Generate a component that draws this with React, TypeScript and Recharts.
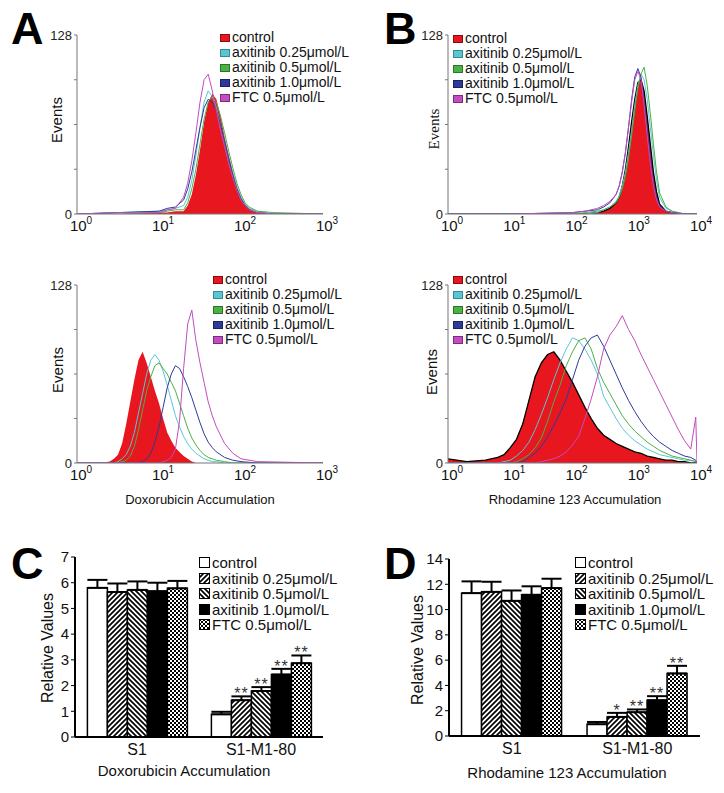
import React from 'react';
import { ComposedChart, Area, Line, XAxis, YAxis, BarChart, Bar, ErrorBar } from 'recharts';

const FONT = '"Liberation Sans", Arial, Helvetica, sans-serif';

const legendLabels = ['control', 'axitinib 0.25μmol/L', 'axitinib 0.5μmol/L', 'axitinib 1.0μmol/L', 'FTC 0.5μmol/L'];
const seriesKeys = ['control', 'a25', 'a5', 'a10', 'ftc'];
const lineColors = ['#e8161e', '#5ac6d4', '#4cb045', '#2e3a9a', '#c24cc0'];
const swatchBorders = ['#8a0c10', '#2f8c98', '#2a7526', '#1a2260', '#7e2a7d'];

const eventTicks = [0, 32, 64, 96, 128];
const decadesDox = [0, 1, 2, 3];
const decadesRho = [0, 1, 2, 3, 4];

// A, top: doxorubicin in S1 (x = log10 fluorescence)
const doxS1Bins = [0, 0.5, 1.0, 1.1, 1.2, 1.3, 1.35, 1.4, 1.45, 1.5, 1.55, 1.6, 1.65, 1.7, 1.75, 1.8, 1.85, 1.9, 1.95, 2.0, 2.05, 2.1, 2.2, 2.4, 3.0];
const doxS1Control = [0, 0, 1, 1, 2, 2, 6, 14, 28, 46, 66, 80, 86, 82, 70, 55, 42, 30, 20, 12, 7, 4, 1, 0, 0];
const doxS1A25 = [0, 1, 2, 3, 4, 6, 12, 24, 42, 62, 80, 88, 84, 76, 64, 52, 40, 29, 19, 12, 7, 4, 2, 0, 0];
const doxS1A5 = [0, 0, 1, 2, 3, 3, 8, 18, 32, 50, 68, 80, 84, 80, 70, 58, 45, 33, 22, 14, 8, 5, 2, 1, 0];
const doxS1A10 = [0, 1, 2, 4, 5, 10, 18, 30, 46, 62, 76, 82, 80, 74, 64, 52, 40, 28, 18, 11, 6, 3, 1, 0, 0];
const doxS1Ftc = [0, 1, 1, 3, 4, 12, 22, 38, 58, 80, 96, 100, 88, 74, 60, 48, 36, 26, 17, 10, 6, 3, 1, 0, 0];

// B, top: rhodamine 123 in S1
const rhoS1Bins = [0, 1, 2.0, 2.2, 2.4, 2.5, 2.6, 2.7, 2.75, 2.8, 2.85, 2.9, 2.95, 3.0, 3.05, 3.1, 3.15, 3.2, 3.25, 3.3, 3.35, 3.4, 3.5, 3.6, 3.8, 4.0];
const rhoS1Control = [0, 0, 0, 0, 1, 2, 4, 8, 12, 20, 32, 48, 66, 82, 94, 96, 88, 70, 50, 30, 16, 7, 2, 1, 0, 0];
const rhoS1A25 = [0, 0, 0, 0, 1, 3, 5, 9, 13, 20, 30, 44, 60, 78, 92, 100, 96, 82, 62, 42, 24, 12, 4, 2, 0, 0];
const rhoS1A5 = [0, 0, 0, 1, 2, 3, 5, 8, 12, 18, 27, 40, 56, 74, 90, 100, 105, 92, 72, 50, 30, 15, 5, 2, 0, 0];
const rhoS1A10 = [0, 0, 1, 2, 3, 5, 8, 14, 20, 30, 44, 62, 82, 98, 104, 98, 82, 60, 40, 22, 12, 6, 2, 1, 0, 0];
const rhoS1Ftc = [0, 0, 1, 2, 4, 6, 9, 14, 20, 30, 44, 62, 80, 96, 102, 96, 78, 56, 36, 20, 10, 5, 2, 1, 0, 0];

// A, bottom: doxorubicin in S1-M1-80
const doxM1Bins = [0, 0.3, 0.4, 0.45, 0.5, 0.55, 0.6, 0.65, 0.7, 0.75, 0.8, 0.85, 0.9, 0.95, 1.0, 1.05, 1.1, 1.15, 1.2, 1.25, 1.3, 1.35, 1.4, 1.45, 1.5, 1.55, 1.6, 1.65, 1.7, 1.8, 1.9, 2.0, 2.2, 3.0];
const doxM1Control = [0, 0, 1, 3, 6, 14, 28, 44, 60, 74, 80, 72, 62, 52, 43, 32, 22, 16, 11, 8, 5, 3, 1, 0, 0, 0, 0, 0, 0, 0, 0, 0, 0, 0];
const doxM1A25 = [0, 0, 0, 0, 1, 3, 6, 12, 22, 36, 50, 64, 74, 78, 74, 66, 56, 45, 34, 26, 19, 14, 10, 7, 5, 3, 2, 1, 1, 0, 0, 0, 0, 0];
const doxM1A5 = [0, 0, 0, 0, 0, 1, 2, 5, 12, 24, 38, 52, 62, 70, 72, 68, 64, 58, 52, 43, 34, 25, 18, 13, 9, 6, 4, 3, 2, 1, 0, 0, 0, 0];
const doxM1A10 = [0, 0, 0, 0, 0, 0, 0, 0, 0, 0, 1, 3, 7, 15, 26, 40, 54, 64, 70, 68, 62, 55, 47, 38, 29, 21, 15, 11, 8, 4, 2, 1, 0, 0];
const doxM1Ftc = [0, 0, 0, 0, 0, 0, 0, 0, 0, 0, 0, 0, 0, 0, 0, 1, 2, 4, 10, 30, 68, 100, 110, 88, 72, 58, 44, 34, 26, 14, 7, 3, 1, 0];

// B, bottom: rhodamine 123 in S1-M1-80
const rhoM1Bins = [0, 0.3, 0.6, 0.8, 0.9, 1.0, 1.1, 1.2, 1.3, 1.4, 1.5, 1.6, 1.7, 1.8, 1.9, 2.0, 2.1, 2.2, 2.3, 2.4, 2.5, 2.6, 2.7, 2.8, 2.9, 3.0, 3.1, 3.2, 3.3, 3.4, 3.5, 3.6, 3.7, 3.8, 3.9, 3.98, 4.0];
const rhoM1Control = [3, 1, 2, 4, 6, 11, 17, 28, 45, 62, 72, 78, 80, 74, 66, 58, 49, 40, 32, 25, 20, 17, 14, 12, 10, 8, 7, 5, 4, 3, 2, 2, 1, 1, 0, 0, 0];
const rhoM1A25 = [0, 0, 0, 0, 1, 2, 5, 9, 15, 24, 35, 47, 60, 72, 82, 90, 88, 82, 74, 64, 48, 40, 32, 25, 20, 16, 13, 10, 8, 6, 5, 4, 3, 2, 2, 1, 0];
const rhoM1A5 = [0, 0, 0, 0, 0, 0, 1, 3, 6, 11, 18, 30, 44, 56, 70, 80, 88, 90, 82, 68, 58, 50, 42, 34, 28, 23, 19, 15, 12, 9, 7, 5, 4, 3, 2, 1, 0];
const rhoM1A10 = [0, 0, 0, 0, 0, 0, 0, 1, 4, 7, 12, 19, 27, 36, 46, 60, 74, 84, 90, 92, 84, 74, 64, 54, 45, 37, 30, 24, 19, 15, 12, 9, 7, 5, 4, 2, 0];
const rhoM1Ftc = [0, 0, 0, 0, 0, 0, 0, 0, 0, 0, 1, 2, 3, 5, 8, 13, 19, 32, 46, 62, 82, 92, 98, 106, 96, 88, 78, 69, 60, 51, 42, 33, 24, 16, 10, 33, 0];

// C / D bar charts
const groups = ['S1', 'S1-M1-80'];
const doxControl = [5.8, 0.88];
const doxControlErr = [0.31, 0.1];
const doxA25 = [5.64, 1.43];
const doxA25Err = [0.33, 0.15];
const doxA5 = [5.72, 1.79];
const doxA5Err = [0.33, 0.15];
const doxA10 = [5.67, 2.43];
const doxA10Err = [0.33, 0.22];
const doxFtc = [5.78, 2.87];
const doxFtcErr = [0.29, 0.3];
const doxStars = [['', ''], ['', '**'], ['', '**'], ['', '**'], ['', '**']];
const doxTicks = [0, 1, 2, 3, 4, 5, 6, 7];

const rhoControl = [11.3, 0.93];
const rhoControlErr = [0.93, 0.18];
const rhoA25 = [11.4, 1.51];
const rhoA25Err = [0.8, 0.32];
const rhoA5 = [10.69, 1.88];
const rhoA5Err = [0.82, 0.22];
const rhoA10 = [11.17, 2.83];
const rhoA10Err = [0.67, 0.32];
const rhoFtc = [11.7, 4.95];
const rhoFtcErr = [0.74, 0.6];
const rhoStars = [['', ''], ['', '*'], ['', '**'], ['', '**'], ['', '**']];
const rhoTicks = [0, 2, 4, 6, 8, 10, 12, 14];

const barFills = ['#ffffff', 'url(#hatchFwd)', 'url(#hatchBack)', '#000000', 'url(#checker)'];

const Txt = ({ x, y, children, size = 14, weight = 'normal', family = FONT }: any) => (
  <div style={{ position: 'absolute', left: x, top: y, transform: 'translate(-50%,-50%)', fontSize: size, fontWeight: weight, fontFamily: family, whiteSpace: 'nowrap', lineHeight: 1, color: '#111' }}>
    {children}
  </div>
);

const VTxt = ({ x, y, children, size = 15, family = FONT }: any) => (
  <div style={{ position: 'absolute', left: x, top: y, transform: 'translate(-50%,-50%) rotate(-90deg)', fontSize: size, fontFamily: family, whiteSpace: 'nowrap', lineHeight: 1, color: '#111' }}>
    {children}
  </div>
);

const Letter = ({ x, y, children }: any) => (
  <div style={{ position: 'absolute', left: x, top: y, fontSize: 45, fontWeight: 'bold', fontFamily: FONT, lineHeight: 1, color: '#000' }}>{children}</div>
);

const LogTick = (props: any) => {
  const { x, y, payload } = props;
  return (
    <text x={x + 4} y={y + 17} textAnchor="middle" fontSize={15} fontFamily={FONT} fill="#111">
      <tspan>10</tspan>
      <tspan dy={-7} fontSize={10}>{payload.value}</tspan>
    </text>
  );
};

const HistLegend = ({ x, y }: any) => (
  <div style={{ position: 'absolute', left: x, top: y, fontFamily: FONT, fontSize: 14, lineHeight: '15px', color: '#111' }}>
    {legendLabels.map((l, i) => (
      <div key={l} style={{ display: 'flex', alignItems: 'center', whiteSpace: 'nowrap' }}>
        <span style={{ display: 'inline-block', width: 8, height: 6, background: lineColors[i], border: `1px solid ${swatchBorders[i]}`, marginRight: 2 }} />
        {l}
      </div>
    ))}
  </div>
);

const Hist = ({ left, top, width, height, mLeft, mRight, bins, series, decades, outline }: any) => {
  const data = bins.map((x: number, i: number) => {
    const row: any = { x };
    seriesKeys.forEach((k, si) => { row[k] = series[si][i]; });
    return row;
  });
  return (
    <div style={{ position: 'absolute', left, top }}>
      <ComposedChart width={width} height={height} data={data} margin={{ top: 35, right: mRight, left: mLeft, bottom: 0 }}>
        <XAxis type="number" dataKey="x" domain={[0, decades[decades.length - 1]]} ticks={decades} interval={0}
          tick={(p: any) => <LogTick {...p} />} tickLine={false} tickSize={0} tickMargin={0}
          axisLine={{ stroke: '#777' }} height={26} allowDataOverflow />
        <YAxis type="number" domain={[0, 128]} ticks={eventTicks} interval={0} width={30} tickSize={3}
          tickFormatter={(v: number) => (v === 0 || v === 128 ? String(v) : '')}
          axisLine={{ stroke: '#777' }} tickLine={{ stroke: '#777' }}
          tick={{ fontSize: 13, fill: '#222', fontFamily: FONT }} allowDataOverflow />
        <Area type="linear" dataKey="control" fill={lineColors[0]} fillOpacity={1}
          stroke={outline ? '#000' : 'none'} strokeWidth={1.3} dot={false} activeDot={false} isAnimationActive={false} />
        {seriesKeys.slice(1).map((k, i) => (
          <Line key={k} type="linear" dataKey={k} stroke={lineColors[i + 1]} strokeWidth={1}
            dot={false} activeDot={false} isAnimationActive={false} />
        ))}
      </ComposedChart>
    </div>
  );
};

const starLabel = (stars: string[], errs: number[]) => (props: any) => {
  const { x, y, width, height, value, index } = props;
  const s = stars[index];
  if (!s || !value) return <g />;
  const ppu = height / value;
  return (
    <text x={x + width / 2} y={y - errs[index] * ppu + 3} textAnchor="middle" fontSize={16} fontFamily={FONT} fill="#333" letterSpacing={1}>{s}</text>
  );
};

const BarPanel = ({ left, top, width, height, mLeft, mRight, mTop, values, errs, stars, ticks }: any) => {
  const data = groups.map((g, gi) => {
    const row: any = { g };
    seriesKeys.forEach((k, si) => {
      row[k] = values[si][gi];
      row[k + 'Err'] = [0, errs[si][gi]];
    });
    return row;
  });
  return (
    <div style={{ position: 'absolute', left, top }}>
      <BarChart width={width} height={height} data={data} margin={{ top: mTop, right: mRight, left: mLeft, bottom: 0 }} barCategoryGap="10%" barGap={0}>
        <XAxis dataKey="g" tickLine={false} tickSize={0} tickMargin={7} height={28}
          axisLine={{ stroke: '#000', strokeWidth: 2 }} tick={{ fontSize: 16, fill: '#111', fontFamily: FONT }} />
        <YAxis type="number" domain={[0, ticks[ticks.length - 1]]} ticks={ticks} interval={0} width={30} tickSize={4}
          axisLine={{ stroke: '#000', strokeWidth: 2 }} tickLine={{ stroke: '#000' }}
          tick={{ fontSize: 15, fill: '#111', fontFamily: FONT }} />
        {seriesKeys.map((k, si) => (
          <Bar key={k} dataKey={k} fill={barFills[si]} stroke="#000" strokeWidth={1.5} isAnimationActive={false}
            label={starLabel(stars[si], errs[si])}>
            <ErrorBar dataKey={k + 'Err'} direction="y" width={10} stroke="#000" strokeWidth={2} />
          </Bar>
        ))}
      </BarChart>
    </div>
  );
};

const BarLegend = ({ x, y }: any) => (
  <div style={{ position: 'absolute', left: x, top: y, fontFamily: FONT, fontSize: 15, lineHeight: '15.5px', color: '#111' }}>
    {legendLabels.map((l, i) => (
      <div key={l} style={{ display: 'flex', alignItems: 'center', whiteSpace: 'nowrap' }}>
        <svg width={11} height={11} style={{ marginRight: 2 }}>
          <rect x={0.5} y={0.5} width={10} height={10} fill={barFills[i]} stroke="#000" strokeWidth={1} />
        </svg>
        {l}
      </div>
    ))}
  </div>
);

export default function App() {
  return (
    <div style={{ position: 'absolute', left: 0, top: 0, width: 724, height: 793, background: '#fff', fontFamily: FONT, overflow: 'hidden' }}>
      <svg width={0} height={0} style={{ position: 'absolute' }}>
        <defs>
          <pattern id="hatchFwd" patternUnits="userSpaceOnUse" width={5} height={5}>
            <rect width={5} height={5} fill="#fff" />
            <path d="M0,5 L5,0 M-1,1 L1,-1 M4,6 L6,4" stroke="#000" strokeWidth={1.7} />
          </pattern>
          <pattern id="hatchBack" patternUnits="userSpaceOnUse" width={5} height={5}>
            <rect width={5} height={5} fill="#fff" />
            <path d="M0,0 L5,5 M-1,4 L1,6 M4,-1 L6,1" stroke="#000" strokeWidth={1.7} />
          </pattern>
          <pattern id="checker" patternUnits="userSpaceOnUse" width={4} height={4}>
            <rect width={4} height={4} fill="#fff" />
            <rect width={2} height={2} fill="#000" />
            <rect x={2} y={2} width={2} height={2} fill="#000" />
          </pattern>
        </defs>
      </svg>

      <Letter x={11} y={6}>A</Letter>
      <Letter x={384} y={6}>B</Letter>
      <Letter x={11} y={541}>C</Letter>
      <Letter x={384} y={541}>D</Letter>

      <Hist left={0} top={0} width={355} height={240} mLeft={47} mRight={32} bins={doxS1Bins}
        series={[doxS1Control, doxS1A25, doxS1A5, doxS1A10, doxS1Ftc]} decades={decadesDox} outline={false} />
      <Hist left={362} top={0} width={360} height={240} mLeft={56} mRight={25} bins={rhoS1Bins}
        series={[rhoS1Control, rhoS1A25, rhoS1A5, rhoS1A10, rhoS1Ftc]} decades={decadesRho} outline />
      <Hist left={0} top={250} width={355} height={239} mLeft={47} mRight={32} bins={doxM1Bins}
        series={[doxM1Control, doxM1A25, doxM1A5, doxM1A10, doxM1Ftc]} decades={decadesDox} outline={false} />
      <Hist left={362} top={250} width={360} height={239} mLeft={56} mRight={25} bins={rhoM1Bins}
        series={[rhoM1Control, rhoM1A25, rhoM1A5, rhoM1A10, rhoM1Ftc]} decades={decadesRho} outline />

      <HistLegend x={220} y={30} />
      <HistLegend x={453} y={31} />
      <HistLegend x={213} y={272} />
      <HistLegend x={453} y={272} />

      <VTxt x={56} y={120} size={15}>Events</VTxt>
      <VTxt x={434} y={129} size={15} family='"Liberation Serif", "Times New Roman", serif'>Events</VTxt>
      <VTxt x={57} y={370} size={15}>Events</VTxt>
      <VTxt x={431} y={372} size={15}>Events</VTxt>

      <Txt x={200} y={499} size={13}>Doxorubicin Accumulation</Txt>
      <Txt x={575} y={499} size={13}>Rhodamine 123 Accumulation</Txt>

      <BarPanel left={0} top={520} width={340} height={245} mLeft={45} mRight={17} mTop={37}
        values={[doxControl, doxA25, doxA5, doxA10, doxFtc]}
        errs={[doxControlErr, doxA25Err, doxA5Err, doxA10Err, doxFtcErr]}
        stars={doxStars} ticks={doxTicks} />
      <BarPanel left={362} top={520} width={345} height={244} mLeft={57} mRight={7} mTop={39}
        values={[rhoControl, rhoA25, rhoA5, rhoA10, rhoFtc]}
        errs={[rhoControlErr, rhoA25Err, rhoA5Err, rhoA10Err, rhoFtcErr]}
        stars={rhoStars} ticks={rhoTicks} />

      <BarLegend x={199} y={555} />
      <BarLegend x={575} y={555} />

      <VTxt x={48} y={648} size={16}>Relative Values</VTxt>
      <VTxt x={418} y={650} size={16}>Relative Values</VTxt>
      <Txt x={184} y={770} size={15}>Doxorubicin Accumulation</Txt>
      <Txt x={567} y={772} size={15}>Rhodamine 123 Accumulation</Txt>
    </div>
  );
}
